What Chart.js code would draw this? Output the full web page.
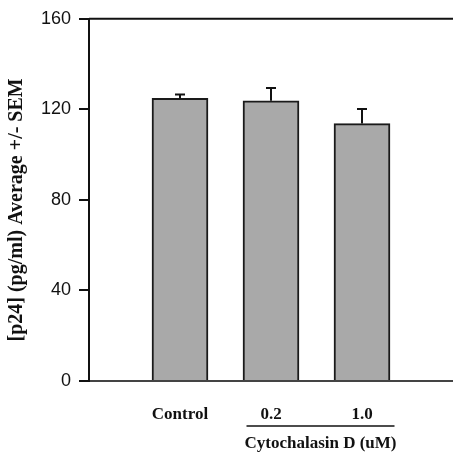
<!DOCTYPE html>
<html>
<head>
<meta charset="utf-8">
<script src="https://cdn.jsdelivr.net/npm/chart.js@4.4.1/dist/chart.umd.min.js"></script>
<style>
  html, body { margin: 0; padding: 0; background: #fff; }
  canvas { display: block; }
</style>
</head>
<body>
<canvas id="p24-chart" width="453" height="460"></canvas>
<script>
// data
const groups = ['Control', '0.2', '1.0'];
const positions = [1, 2, 3];
const means = [124.9, 123.8, 113.7];
const sems = [1.7, 5.6, 6.5];
const yTicks = [0, 40, 80, 120, 160];

const serif = '"Liberation Serif", "Times New Roman", serif';
const sans = '"Liberation Sans", Arial, sans-serif';

// error bars, top frame line and the Cytochalasin D group label
const extras = {
    id: 'extras',
    afterDatasetsDraw(chart) {
        const ctx = chart.ctx;
        const y = chart.scales.y;
        const x = chart.scales.x;
        const area = chart.chartArea;
        const meta = chart.getDatasetMeta(0);
        ctx.save();
        ctx.strokeStyle = '#111';
        ctx.lineWidth = 2;
        meta.data.forEach((bar, i) => {
            const top = y.getPixelForValue(means[i] + sems[i]);
            ctx.beginPath();
            ctx.moveTo(bar.x, bar.y);
            ctx.lineTo(bar.x, top);
            ctx.moveTo(bar.x - 5, top);
            ctx.lineTo(bar.x + 5, top);
            ctx.stroke();
        });
        // top frame line
        ctx.beginPath();
        ctx.moveTo(area.left, area.top);
        ctx.lineTo(area.right, area.top);
        ctx.stroke();

        // group underline + label
        const mid = (x.getPixelForValue(positions[1]) + x.getPixelForValue(positions[2])) / 2 + 4;
        ctx.lineWidth = 1.5;
        ctx.beginPath();
        ctx.moveTo(mid - 74, area.bottom + 45);
        ctx.lineTo(mid + 74, area.bottom + 45);
        ctx.stroke();
        ctx.fillStyle = '#111';
        ctx.font = 'bold 17px ' + serif;
        ctx.textAlign = 'center';
        ctx.textBaseline = 'middle';
        ctx.fillText('Cytochalasin D (uM)', mid, area.bottom + 63);
        ctx.restore();
    }
};

new Chart(document.getElementById('p24-chart'), {
    type: 'bar',
    data: {
        datasets: [{
            data: positions.map((p, i) => ({ x: p, y: means[i] })),
            backgroundColor: '#a9a9a9',
            borderColor: '#1a1a1a',
            borderWidth: 2,
            borderSkipped: 'bottom',
            barThickness: 56
        }]
    },
    options: {
        responsive: false,
        animation: false,
        layout: { padding: { top: 15, right: 0, left: 0, bottom: 0 } },
        plugins: { legend: { display: false }, tooltip: { enabled: false } },
        scales: {
            x: {
                type: 'linear',
                min: 0,
                max: 4,
                offset: false,
                afterFit: s => { s.height = 79; s.paddingLeft = 0; s.paddingRight = 0; },
                afterBuildTicks: s => { s.ticks = [0, 1, 2, 3, 4].map(v => ({ value: v })); },
                grid: { display: false, offset: false },
                border: { display: true, color: '#444', width: 2 },
                ticks: {
                    autoSkip: false,
                    maxRotation: 0,
                    padding: 15,
                    color: '#111',
                    font: { family: serif, size: 17, weight: 'bold' },
                    callback: v => {
                        const i = positions.indexOf(v);
                        return i >= 0 ? groups[i] : '';
                    }
                }
            },
            y: {
                min: 0,
                max: 160,
                afterFit: s => { s.width = 89; },
                afterBuildTicks: s => { s.ticks = yTicks.map(v => ({ value: v })); },
                grid: { drawOnChartArea: false, drawTicks: true, tickLength: 10, color: '#111', lineWidth: 2 },
                border: { display: true, color: '#111', width: 2 },
                ticks: {
                    padding: 8,
                    color: '#111',
                    font: { family: sans, size: 18 }
                },
                title: {
                    display: true,
                    text: '[p24] (pg/ml) Average +/- SEM    ',
                    color: '#111',
                    padding: { top: 5, bottom: 0 },
                    font: { family: serif, size: 20, weight: 'bold' }
                }
            }
        }
    },
    plugins: [extras]
});
</script>
</body>
</html>
